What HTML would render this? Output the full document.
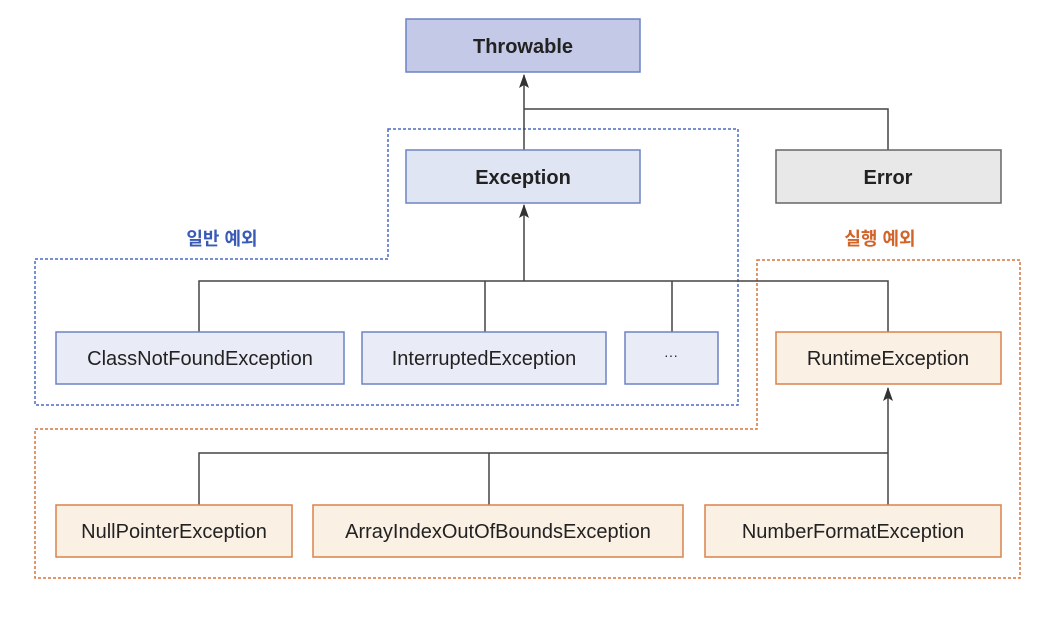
<!DOCTYPE html>
<html><head><meta charset="utf-8"><style>html,body{margin:0;padding:0;background:#fff}svg{display:block}text{font-family:"Liberation Sans","Noto Sans CJK KR",sans-serif}</style></head>
<body>
<svg width="1056" height="622" viewBox="0 0 1056 622" xmlns="http://www.w3.org/2000/svg">
<defs><marker id="a" markerWidth="14" markerHeight="10" refX="13" refY="5" orient="auto" markerUnits="userSpaceOnUse"><path d="M0,0 L14,5 L0,10 L3,5 Z" fill="#333"/></marker></defs>
<path d="M388,129 H738 V405 H35 V259 H388 Z" fill="none" stroke="#4a6cc4" stroke-width="1.5" stroke-dasharray="3,2"/>
<path d="M757,260 H1020 V578 H35 V429 H757 Z" fill="none" stroke="#d9743e" stroke-width="1.5" stroke-dasharray="3,2"/>
<text x="222" y="245" text-anchor="middle" font-size="18" font-weight="bold" fill="#3a5bb5">일반 예외</text>
<text x="880" y="245" text-anchor="middle" font-size="18" font-weight="bold" fill="#d2642a">실행 예외</text>
<g stroke="#444" stroke-width="1.5" fill="none">
<path d="M524,150 V75" marker-end="url(#a)"/>
<path d="M524,109 H888 V150"/>
<path d="M524,281 V205" marker-end="url(#a)"/>
<path d="M199,332 V281 H888 V332 M485,281 V332 M672,281 V332"/>
<path d="M888,505 V388" marker-end="url(#a)"/>
<path d="M199,505 V453 H888 M489,453 V505"/>
</g>
<g stroke-width="1.5">
<rect x="406" y="19" width="234" height="53" fill="#c3c9e6" stroke="#6d83c4"/>
<rect x="406" y="150" width="234" height="53" fill="#e0e5f4" stroke="#6d83c4"/>
<rect x="776" y="150" width="225" height="53" fill="#e8e8e8" stroke="#666"/>
<rect x="56" y="332" width="288" height="52" fill="#e9ecf7" stroke="#6d83c4"/>
<rect x="362" y="332" width="244" height="52" fill="#e9ecf7" stroke="#6d83c4"/>
<rect x="625" y="332" width="93" height="52" fill="#e9ecf7" stroke="#6d83c4"/>
<rect x="776" y="332" width="225" height="52" fill="#faf0e4" stroke="#d9824a"/>
<rect x="56" y="505" width="236" height="52" fill="#faf0e4" stroke="#d9824a"/>
<rect x="313" y="505" width="370" height="52" fill="#faf0e4" stroke="#d9824a"/>
<rect x="705" y="505" width="296" height="52" fill="#faf0e4" stroke="#d9824a"/>
</g>
<g font-size="20" fill="#222" text-anchor="middle">
<text x="523" y="53" font-weight="bold">Throwable</text>
<text x="523" y="184" font-weight="bold">Exception</text>
<text x="888" y="184" font-weight="bold">Error</text>
<text x="200" y="365">ClassNotFoundException</text>
<text x="484" y="365">InterruptedException</text>
<text x="671" y="360" font-size="14">···</text>
<text x="888" y="365">RuntimeException</text>
<text x="174" y="538">NullPointerException</text>
<text x="498" y="538">ArrayIndexOutOfBoundsException</text>
<text x="853" y="538">NumberFormatException</text>
</g>
</svg>
</body></html>
